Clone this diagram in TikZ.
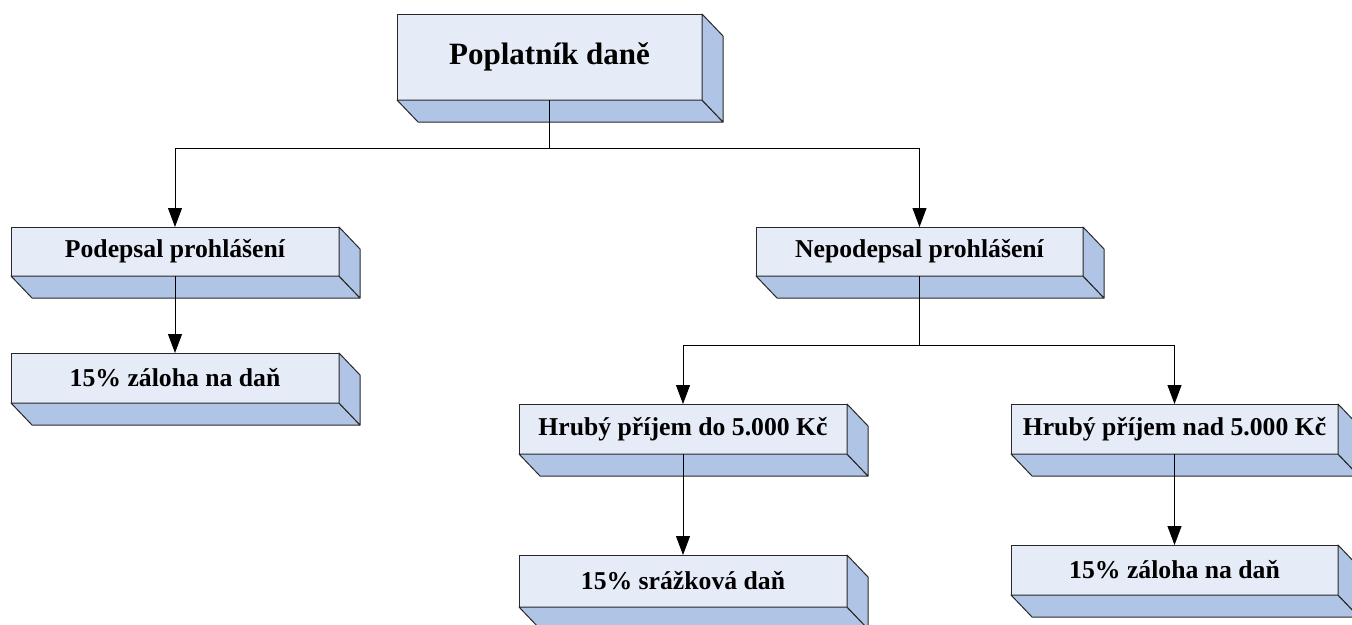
\documentclass[tikz,border=0pt]{standalone}
\usepackage{fontspec}
\setmainfont{Liberation Serif}
\usetikzlibrary{arrows.meta,calc}
\definecolor{frontc}{RGB}{230,236,247}
\definecolor{sidec}{RGB}{176,197,229}
\definecolor{edgec}{RGB}{40,40,40}
\tikzset{
  box/.style={draw=edgec, line width=1pt, fill=frontc, rectangle, inner sep=0pt, outer sep=0pt,
    font=\fontsize{25.7}{30}\selectfont\bfseries, align=center},
  face/.style={draw=edgec, line width=1pt, fill=sidec, line join=round},
  conn/.style={draw=black, line width=0.9pt, -{Triangle[length=19pt,width=14pt]}}
}
\begin{document}
\begin{tikzpicture}[x=1pt,y=-1pt]
\useasboundingbox (0,0) rectangle (1352,624);
\node[box, minimum width=305pt, minimum height=86pt, font=\fontsize{31}{36}\selectfont\bfseries] (top) at (549.5,57) {Poplatník daně};
\node[box, minimum width=328pt, minimum height=49pt] (pod) at (175,251.5) {Podepsal prohlášení};
\node[box, minimum width=328pt, minimum height=50pt] (zal1) at (175,378) {15\% záloha na daň};
\node[box, minimum width=327pt, minimum height=49pt] (nep) at (919.5,251.5) {Nepodepsal prohlášení};
\node[box, minimum width=328pt, minimum height=50pt] (hdo) at (683,429) {Hrubý příjem do 5.000 Kč};
\node[box, minimum width=327pt, minimum height=50pt] (hnad) at (1174.5,429) {Hrubý příjem nad 5.000 Kč};
\node[box, minimum width=328pt, minimum height=52pt] (sraz) at (683,581) {15\% srážková daň};
\node[box, minimum width=327pt, minimum height=50pt] (zal2) at (1174.5,570) {15\% záloha na daň};
\foreach \n in {top,pod,zal1,nep,hdo,hnad,sraz,zal2}{
  \filldraw[face] (\n.south west) -- (\n.south east) -- ++(21,22) -- ($(\n.south west)+(21,22)$) -- cycle;
  \filldraw[face] (\n.north east) -- ++(21,22) -- ($(\n.south east)+(21,22)$) -- (\n.south east) -- cycle;
}
\draw[conn] (top.south) -- ++(0,48) -| (pod.north);
\draw[conn] (top.south) -- ++(0,48) -| (nep.north);
\draw[conn] (pod.south) -- (zal1.north);
\draw[conn] (nep.south) -- ++(0,69) -| (hdo.north);
\draw[conn] (nep.south) -- ++(0,69) -| (hnad.north);
\draw[conn] (hdo.south) -- (sraz.north);
\draw[conn] (hnad.south) -- (zal2.north);
\end{tikzpicture}
\end{document}
